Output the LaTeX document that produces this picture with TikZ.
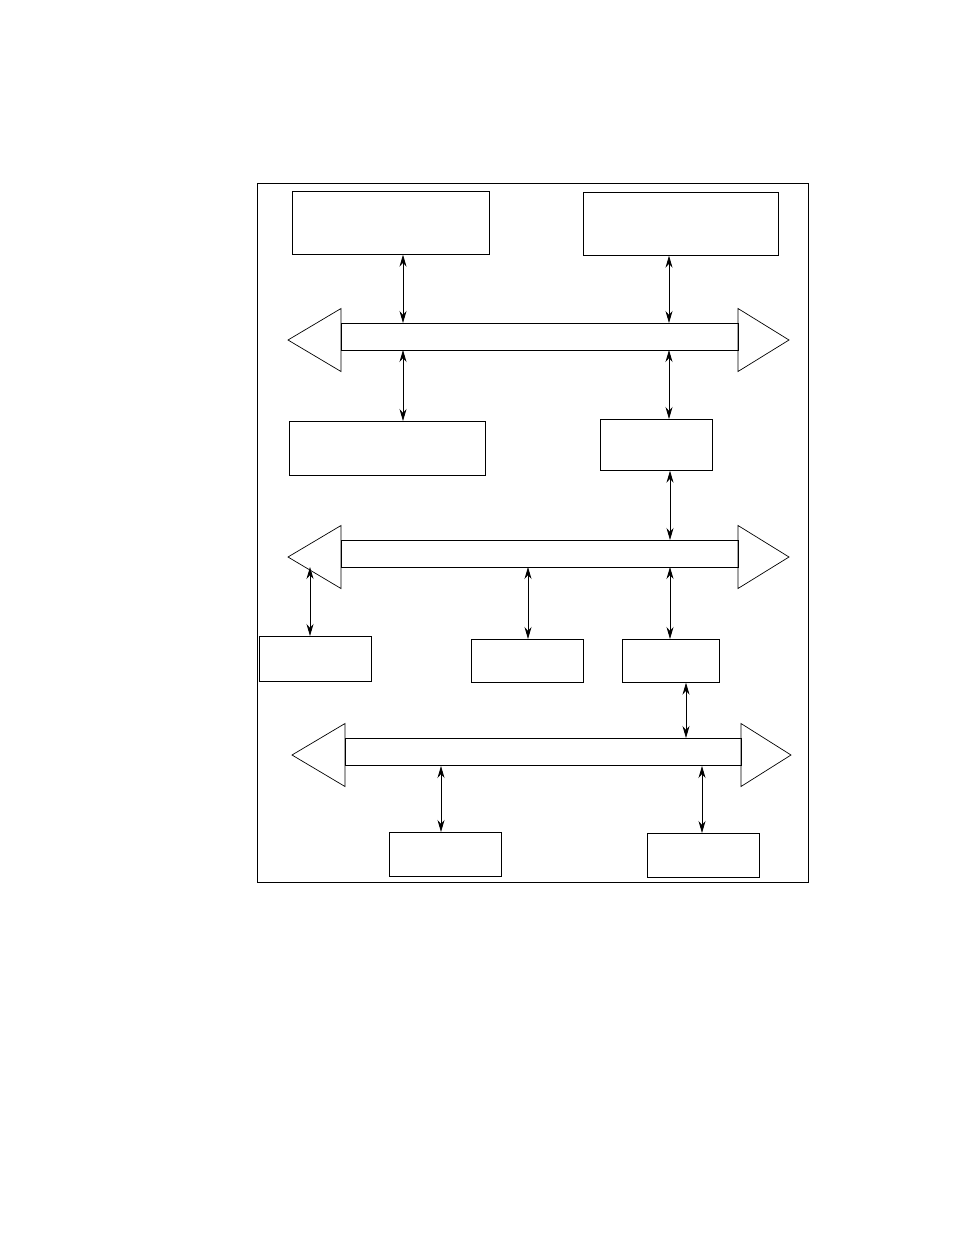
\documentclass[tikz,border=0pt]{standalone}
\usetikzlibrary{arrows.meta}
\tikzstyle{unit}  = [draw, line width=0.7pt, inner sep=0pt, anchor=north west]
\tikzstyle{link}  = [line width=0.8pt, {Stealth[length=12pt,width=7pt]}-{Stealth[length=12pt,width=7pt]}]
\newcommand{\bus}[6]{% name, left tip, left base, right base, right tip, top y of shaft
  \draw[line width=0.7pt] (#3,#6) rectangle (#4,#6+27);
  \draw[line width=0.7pt] (#2,#6+16.5) -- (#3,#6-15) -- (#3,#6+48) -- cycle;
  \draw[line width=0.7pt] (#5,#6+16.5) -- (#4,#6-15) -- (#4,#6+48) -- cycle;
  \coordinate (#1) at (0,#6);}
\begin{document}
\begin{tikzpicture}[x=1pt,y=-1pt]
  \useasboundingbox (0,0) rectangle (954,1235);
  \draw[line width=0.7pt] (257,183) rectangle (808,882);

  \node[unit, minimum width=197pt, minimum height=63pt] (cpuA) at (292,191) {};
  \node[unit, minimum width=195pt, minimum height=63pt] (cpuB) at (583,192) {};
  \node[unit, minimum width=196pt, minimum height=54pt] (mem) at (289,421) {};
  \node[unit, minimum width=112pt, minimum height=51pt] (brA) at (600,419) {};
  \node[unit, minimum width=112pt, minimum height=45pt] (devA) at (259,636) {};
  \node[unit, minimum width=112pt, minimum height=43pt] (devB) at (471,639) {};
  \node[unit, minimum width=97pt, minimum height=43pt] (brB) at (622,639) {};
  \node[unit, minimum width=112pt, minimum height=44pt] (devC) at (389,832) {};
  \node[unit, minimum width=112pt, minimum height=44pt] (devD) at (647,833) {};

  \bus{busA}{288}{341}{738}{789}{323.5}
  \bus{busB}{288}{341}{738}{789}{540.5}
  \bus{busC}{292}{345}{741}{791}{738.5}

  % top bus
  \draw[link] (cpuA.south -| 403,0) -- (403,323);
  \draw[link] (403,350) -- (mem.north -| 403,0);
  \draw[link] (cpuB.south -| 669,0) -- (669,323);
  \draw[link] (669,350) -- (brA.north -| 669,0);
  % middle bus
  \draw[link] (brA.south -| 670,0) -- (670,540);
  \draw[link] (310,567) -- (devA.north -| 310,0);
  \draw[link] (528,567) -- (devB.north -| 528,0);
  \draw[link] (670,567) -- (brB.north -| 670,0);
  % lower bus
  \draw[link] (brB.south -| 686,0) -- (686,738);
  \draw[link] (441,766) -- (devC.north -| 441,0);
  \draw[link] (702,766) -- (devD.north -| 702,0);
\end{tikzpicture}
\end{document}
